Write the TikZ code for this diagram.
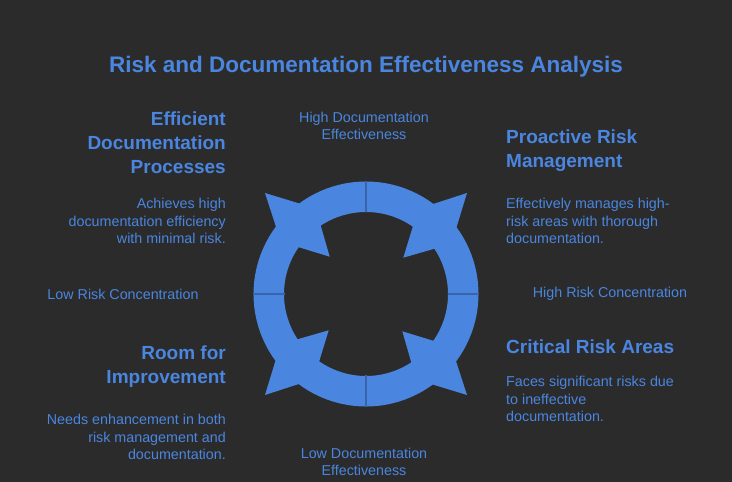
\documentclass[tikz,border=0pt]{standalone}
\usepackage{fontspec}
\usetikzlibrary{calc}
\setmainfont{Liberation Sans}
\definecolor{bg}{HTML}{2B2B2B}
\definecolor{bl}{HTML}{4A86E0}
\definecolor{sep}{HTML}{3A64A8}
\begin{document}
\begin{tikzpicture}[x=1pt,y=1pt,
  head/.style={text=bl,font=\bfseries\fontsize{19}{24}\selectfont,inner sep=0},
  body/.style={text=bl,font=\fontsize{14.3}{17.6}\selectfont,inner sep=0}]
\fill[bg] (0,0) rectangle (732,482);
\useasboundingbox (0,0) rectangle (732,482);
\coordinate (c) at (366,188);
\foreach \r in {0,-90,-180,-270}{
  \begin{scope}[shift={(c)},rotate=\r]
  \fill[bl] (180:112.5) arc[start angle=180,end angle=143.2,radius=112.5]
    -- (-101,101) -- (126.4:112.5) arc[start angle=126.4,end angle=90,radius=112.5]
    -- (90:82) arc[start angle=90,end angle=123.5,radius=82]
    -- (-36.3,37.3) -- (145.2:82) arc[start angle=145.2,end angle=180,radius=82] -- cycle;
  \end{scope}}
\foreach \a in {0,90,180,270}
  \draw[sep,line width=1.2pt] ($(c)+(\a:81.5)$) -- ($(c)+(\a:113)$);
\node[text=bl,font=\bfseries\fontsize{22.5}{25}\selectfont] (title) at (366,415) {Risk and Documentation Effectiveness Analysis};
\node[body,align=center] (top) at (364,356) {High Documentation\\Effectiveness};
\node[body,align=center] (bot) at (364,20) {Low Documentation\\Effectiveness};
\node[body] (left) at (123,188) {Low Risk Concentration};
\node[body] (right) at (610,188) {High Risk Concentration};
\node[head,align=right,anchor=north east] (h1) at (226,370) {Efficient\\Documentation\\Processes};
\node[body,align=right,anchor=north east] (b1) at (226,284) {Achieves high\\documentation efficiency\\with minimal risk.};
\node[head,align=left,anchor=north west] (h2) at (506,352) {Proactive Risk\\Management};
\node[body,align=left,anchor=north west] (b2) at (506,284) {Effectively manages high-\\risk areas with thorough\\documentation.};
\node[head,align=right,anchor=north east] (h3) at (226,136) {Room for\\Improvement};
\node[body,align=right,anchor=north east] (b3) at (226,68) {Needs enhancement in both\\risk management and\\documentation.};
\node[head,align=left,anchor=north west] (h4) at (506,142) {Critical Risk Areas};
\node[body,align=left,anchor=north west] (b4) at (506,106) {Faces significant risks due\\to ineffective\\documentation.};
\end{tikzpicture}
\end{document}
